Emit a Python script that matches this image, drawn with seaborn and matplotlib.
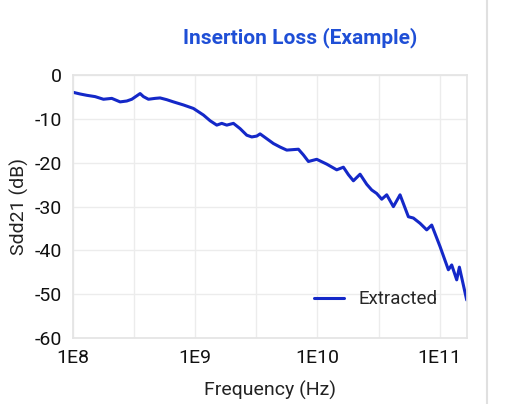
import numpy as np
import matplotlib
matplotlib.use("Agg")
import matplotlib.pyplot as plt
import seaborn as sns
from matplotlib.ticker import FixedLocator, FixedFormatter, NullFormatter

zx = [38,60,80,105,130,155,180,200,215,240,250,265,285,300,320,340,370,400,430,450,470,485,500,520,540,560,575,590,600,620,640,660,680,715,730,745,770,800,830,850,865,880,900,920,935,950,965,980,1000,1020,1045,1060,1080,1100,1115,1140,1165,1175,1190,1198,1220]
sdd21 = [-3.9,-4.3,-4.6,-4.9,-5.5,-5.3,-6.1,-5.9,-5.5,-4.2,-4.9,-5.5,-5.3,-5.2,-5.6,-6.1,-6.8,-7.6,-9.1,-10.4,-11.4,-11.0,-11.4,-11.0,-12.2,-13.7,-14.1,-13.9,-13.4,-14.5,-15.6,-16.4,-17.1,-16.9,-18.2,-19.7,-19.2,-20.3,-21.6,-21.0,-22.7,-24.1,-22.6,-24.9,-26.2,-27.0,-28.3,-27.3,-30.0,-27.3,-32.3,-32.6,-33.8,-35.3,-34.2,-39.1,-44.4,-43.3,-46.7,-43.8,-51.3]
log_freq = [8 + (v - 38) / 367.0 for v in zx]
freq = [10 ** v for v in log_freq]
x_ticks = [1e8, 1e9, 1e10, 1e11]
x_tick_labels = ["1E8", "1E9", "1E10", "1E11"]
y_ticks = [0, -10, -20, -30, -40, -50, -60]

sns.set_theme(style="white")
plt.rcParams['font.family'] = ['Roboto', 'DejaVu Sans']
plt.rcParams['axes.unicode_minus'] = False
fig = plt.figure(figsize=(5.2, 4.04), dpi=100)
ax = fig.add_axes([0.14, 0.163, 0.7575, 0.651])
sns.lineplot(x=freq, y=sdd21, ax=ax, color="#1428c8", linewidth=2.2, label="Extracted")
ax.set_xscale("log")
ax.set_xlim(1e8, 10 ** (8 + 1182 / 367.0))
ax.set_ylim(-60, 0)
ax.xaxis.set_major_locator(FixedLocator(x_ticks))
ax.xaxis.set_major_formatter(FixedFormatter(x_tick_labels))
ax.xaxis.set_minor_locator(FixedLocator([10**8.5, 10**9.5, 10**10.5]))
ax.xaxis.set_minor_formatter(NullFormatter())
ax.set_yticks(y_ticks)
ax.grid(True, which="both", color="#ececec", linewidth=1)
for s in ax.spines.values():
    s.set_color("#e4e4e4")
ax.tick_params(axis="both", which="both", length=0, labelsize=14, colors="#111111", pad=8)
ax.set_xlabel("Frequency (Hz)", fontsize=14, color="#222222", labelpad=10)
ax.set_ylabel("Sdd21 (dB)", fontsize=14, color="#222222", labelpad=4)
fig.text(0.577, 0.908, "Insertion Loss (Example)", ha="center", va="center",
         fontsize=15, fontweight="bold", color="#1f4fd6")
ax.legend(loc="lower right", frameon=False, fontsize=13.5, handlelength=1.6,
          bbox_to_anchor=(0.97, 0.05))
fig.add_artist(plt.Line2D([0.937, 0.937], [0, 1], color="#e0e0e0", linewidth=1.5))
fig.savefig("out.png", dpi=100)
